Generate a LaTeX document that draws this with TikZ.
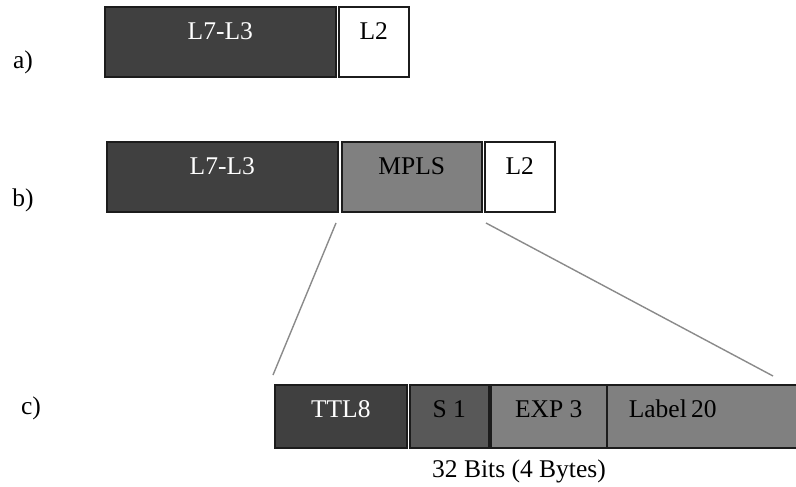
\documentclass[tikz,border=0pt]{standalone}
\usepackage{fontspec}
\setmainfont{Liberation Serif}
\usetikzlibrary{calc}
\definecolor{hdrdark}{HTML}{404040}
\definecolor{hdrmid}{HTML}{808080}
\definecolor{hdrsbit}{HTML}{585858}
\definecolor{edge}{HTML}{1C1C1C}
\definecolor{zoomline}{HTML}{8A8A8A}
\tikzset{
  field/.style={draw=edge, line width=1.6pt, anchor=north west, inner xsep=0pt,
    inner ysep=0pt, font=\fontsize{25.5}{28}\selectfont, text height=33pt},
  darkfield/.style={field, fill=hdrdark, text=white},
  midfield/.style={field, fill=hdrmid, text=black},
  sfield/.style={field, fill=hdrsbit, text=black},
  whitefield/.style={field, fill=white, text=black},
  rowlabel/.style={font=\fontsize{25.5}{28}\selectfont, anchor=center},
  zoom/.style={draw=zoomline, line width=1.4pt}
}
\begin{document}
\begin{tikzpicture}[x=1pt, y=-1pt]
\useasboundingbox (0,0) rectangle (796,487);

% a) frame
\node[darkfield, minimum width=231pt, minimum height=70pt, text depth=37pt] (a7) at (104,6) {L7-L3};
\node[whitefield, minimum width=70pt, minimum height=70pt, text depth=37pt] (a2) at (338,6) {L2};
\node[rowlabel] (la) at (23,62) {a)};

% b) frame with MPLS shim
\node[darkfield, minimum width=231pt, minimum height=70pt, text depth=37pt] (b7) at (106,141) {L7-L3};
\node[midfield, minimum width=140pt, minimum height=70pt, text depth=37pt] (bm) at (341,141) {MPLS};
\node[whitefield, minimum width=70pt, minimum height=70pt, text depth=37pt] (b2) at (484,141) {L2};
\node[rowlabel] (lb) at (23,200) {b)};

% c) MPLS header fields; the last one runs past the right edge
\node[darkfield, minimum width=132pt, minimum height=63pt, text depth=30pt] (ttl) at (274,384) {TTL8};
\node[sfield, minimum width=79pt, minimum height=63pt, text depth=30pt] (sb) at (409,384) {S 1};
\node[midfield, minimum width=116pt, minimum height=63pt, text depth=30pt] (exp) at (490,384) {EXP 3};
\node[midfield, minimum width=210pt, minimum height=63pt, text depth=30pt, text width=210pt, align=left] (lab) at (606,384) {\hspace{22pt}Label\,20};
\node[rowlabel] (lc) at (31,408) {c)};
\node[font=\fontsize{25.5}{28}\selectfont, anchor=center] (bits) at (519,471) {32 Bits (4 Bytes)};

% zoom lines from the MPLS shim down to its fields
\coordinate (zl1) at (336,223);
\coordinate (zl2) at (273,375);
\coordinate (zr1) at (486,223);
\coordinate (zr2) at (773,376);
\draw[zoom] (zl1) -- (zl2);
\draw[zoom] (zr1) -- (zr2);
\end{tikzpicture}
\end{document}
